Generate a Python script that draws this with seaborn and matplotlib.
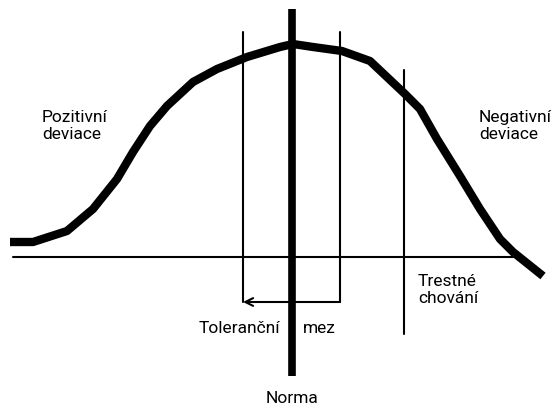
import numpy as np
import pandas as pd
import matplotlib
matplotlib.use("Agg")
import matplotlib.pyplot as plt
import seaborn as sns

# curve of deviation (picture coordinates, y grows downward)
curve_x = [10, 33, 67, 93, 117, 133, 150, 167, 193, 217, 247, 280, 293, 313, 342, 370, 405, 420, 437, 460, 480, 500, 513, 543]
curve_y = [243, 243, 232, 210, 180, 153, 127, 107, 83, 70, 58, 48, 45, 48, 52, 62, 95, 110, 140, 177, 210, 240, 253, 277]

baseline_x = [13, 513]
baseline_y = [258, 258]

norma_x = 292
norma_span = [10, 377]
tol_left_x = 243
tol_right_x = 340
tol_span = [33, 303]
trest_x = 404
trest_span = [71, 335]
arrow_y = 303

labels = ["Pozitivní\ndeviace", "Negativní\ndeviace", "Trestné\nchování", "Toleranční", "mez", "Norma"]
label_x = [42, 479, 418, 199, 303, 292]
label_y = [126, 126, 290, 329, 329, 399]
label_ha = ["left", "left", "left", "left", "left", "center"]

sns.set_style("white")
plt.rcParams['font.family'] = ['Roboto', 'DejaVu Sans']

fig = plt.figure(figsize=(5.6, 4.06), dpi=100)
ax = fig.add_axes([0, 0, 1, 1])

df = pd.DataFrame({"x": curve_x, "y": curve_y})
sns.lineplot(data=df, x="x", y="y", sort=False, color="black", linewidth=6, ax=ax,
             solid_capstyle="butt", solid_joinstyle="round")

ax.plot(baseline_x, baseline_y, color="black", linewidth=1.5)
ax.plot([norma_x, norma_x], norma_span, color="black", linewidth=5.5, solid_capstyle="butt")
ax.plot([tol_left_x, tol_left_x], tol_span, color="black", linewidth=1.5)
ax.plot([tol_right_x, tol_right_x], tol_span, color="black", linewidth=1.5)
ax.plot([trest_x, trest_x], trest_span, color="black", linewidth=1.5)
ax.annotate("", xy=(tol_left_x, arrow_y), xytext=(tol_right_x, arrow_y),
            arrowprops=dict(arrowstyle="->", color="black", lw=1.5, shrinkA=0, shrinkB=0,
                            mutation_scale=14))

for t, x, y, ha in zip(labels, label_x, label_y, label_ha):
    ax.text(x, y, t, ha=ha, va="center", fontsize=12.5, linespacing=1.2, color="black")

ax.set_xlim(0, 560)
ax.set_ylim(406, 0)
ax.set_axis_off()

fig.savefig("out.png", dpi=100)
